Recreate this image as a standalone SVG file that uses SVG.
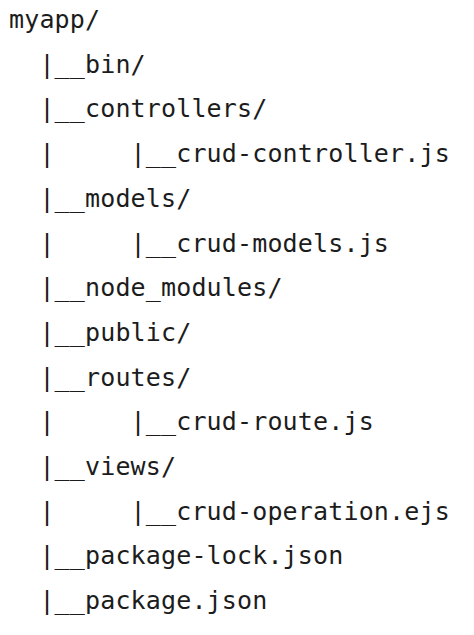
<svg xmlns="http://www.w3.org/2000/svg" width="474" height="635" viewBox="0 0 474 635">
<style>
text{font-family:"DejaVu Sans Mono","Liberation Mono",monospace;font-size:25px;letter-spacing:0.15px;fill:#1c1c1c;white-space:pre}
</style>
<rect width="474" height="635" fill="#ffffff"/>
<g id="tree" xml:space="preserve">
<text id="l1" x="9" y="28">myapp/</text>
<text id="l2" x="9" y="72.7">  |__bin/</text>
<text id="l3" x="9" y="117.4">  |__controllers/</text>
<text id="l4" x="9" y="162.1">  |     |__crud-controller.js</text>
<text id="l5" x="9" y="206.8">  |__models/</text>
<text id="l6" x="9" y="251.5">  |     |__crud-models.js</text>
<text id="l7" x="9" y="296.2">  |__node_modules/</text>
<text id="l8" x="9" y="340.9">  |__public/</text>
<text id="l9" x="9" y="385.6">  |__routes/</text>
<text id="l10" x="9" y="430.3">  |     |__crud-route.js</text>
<text id="l11" x="9" y="475">  |__views/</text>
<text id="l12" x="9" y="519.7">  |     |__crud-operation.ejs</text>
<text id="l13" x="9" y="564.4">  |__package-lock.json</text>
<text id="l14" x="9" y="609.1">  |__package.json</text>
</g>
</svg>
